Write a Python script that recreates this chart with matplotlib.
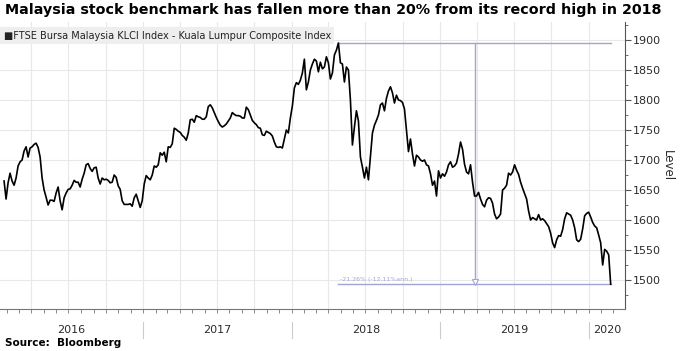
import numpy as np
import pandas as pd
import matplotlib
matplotlib.use("Agg")
import matplotlib.pyplot as plt
import matplotlib.dates as mdates
import matplotlib.transforms as mtransforms


# FBM KLCI level at regular steps
start_date = "2016-01-25"
end_date = "2020-02-24"
klci = [
    1665, 1635, 1662, 1678, 1665, 1658, 1670, 1690, 1697, 1700,
    1715, 1722, 1705, 1720, 1722, 1726, 1728, 1721, 1705, 1670,
    1650, 1638, 1625, 1633, 1633, 1631, 1645, 1655, 1632, 1617,
    1637, 1645, 1651, 1652, 1658, 1666, 1663, 1663, 1655, 1668,
    1678, 1692, 1694, 1686, 1681, 1687, 1688, 1670, 1660, 1670,
    1667, 1668, 1666, 1662, 1663, 1675, 1671, 1657, 1651, 1632,
    1626, 1626, 1626, 1627, 1623, 1637, 1643, 1632, 1621, 1632,
    1660, 1674, 1670, 1667, 1675, 1690, 1688, 1692, 1712, 1708,
    1713, 1697, 1722, 1721, 1727, 1753, 1751, 1748, 1746, 1741,
    1738, 1733, 1745, 1767, 1768, 1763, 1774, 1772, 1771, 1768,
    1768, 1772, 1789, 1792, 1787, 1779, 1771, 1764, 1758, 1755,
    1757, 1760, 1765, 1770, 1779, 1776, 1774, 1774, 1773, 1770,
    1770, 1788, 1784, 1775, 1766, 1762, 1759, 1754, 1753, 1742,
    1741, 1748, 1746, 1744, 1740, 1730, 1722, 1721, 1722, 1720,
    1735, 1750, 1745, 1770, 1790, 1820, 1829, 1826, 1833, 1845,
    1868, 1817, 1830, 1850, 1860, 1868, 1865, 1847, 1863, 1852,
    1855, 1872, 1862, 1835, 1845, 1875, 1883, 1895, 1862, 1860,
    1830, 1855, 1850, 1800, 1725, 1755, 1782, 1765, 1705, 1688,
    1670, 1688, 1667, 1705, 1745, 1758, 1766, 1775, 1792, 1795,
    1782, 1803, 1815, 1822, 1812, 1795, 1808, 1800, 1799, 1796,
    1785, 1750, 1714, 1735, 1710, 1690, 1708, 1705, 1700, 1698,
    1700, 1692, 1690, 1677, 1658, 1665, 1640, 1682, 1670, 1677,
    1673, 1680, 1692, 1697, 1688, 1690, 1695, 1710, 1730, 1718,
    1693, 1680, 1677, 1692, 1663, 1640, 1640, 1646, 1635, 1626,
    1622, 1633, 1637, 1636, 1628, 1610, 1602, 1605, 1610, 1650,
    1653, 1658, 1678, 1675, 1680, 1692, 1683, 1676, 1663, 1653,
    1644, 1635, 1615, 1600, 1604, 1602, 1600, 1609, 1600, 1602,
    1599, 1594, 1589, 1578, 1562, 1554, 1567, 1574, 1573, 1584,
    1602, 1612, 1610, 1608, 1600, 1587, 1567, 1564, 1568, 1585,
    1607, 1611, 1613, 1605, 1596, 1590, 1587, 1575, 1562, 1525,
    1551, 1548, 1542, 1493,
]
years = [2016, 2017, 2018, 2019, 2020]
drawdown_label = "-21.26% (-12.11%ann.)"

title = "Malaysia stock benchmark has fallen more than 20% from its record high in 2018"
legend_label = "FTSE Bursa Malaysia KLCI Index - Kuala Lumpur Composite Index"

dates = pd.date_range(start_date, end_date, periods=len(klci))
series = pd.Series(klci, index=dates)

x_min = pd.Timestamp("2016-01-15")
x_max = pd.Timestamp("2020-03-30")

anno_color = "#a3a3d6"
grid_color = "#e8e8e8"
text_color = "#2b2b2b"

fig = plt.figure(figsize=(6.8, 3.51), dpi=100)
ax = fig.add_axes([0.0, 0.1197, 0.919, 0.8176])

ax.plot(series.index, series.values, color="black", linewidth=1.2, zorder=3)

# drawdown from record high to latest value
peak_date = series.idxmax()
peak_val = series.max()
last_date = series.index[-1]
last_val = series.iloc[-1]
mid_date = peak_date + (last_date - peak_date) / 2
ax.plot([peak_date, last_date], [peak_val, peak_val], color=anno_color, lw=1.0, zorder=2)
ax.plot([peak_date, last_date], [last_val, last_val], color=anno_color, lw=1.0, zorder=2)
ax.plot([mid_date, mid_date], [peak_val, last_val], color=anno_color, lw=1.0, zorder=2)
ax.plot([mid_date], [last_val + 4], marker="v", markersize=5, markerfacecolor="white",
        markeredgecolor=anno_color, markeredgewidth=0.8, zorder=4)
ax.text(peak_date + pd.Timedelta(days=3), last_val + 3, drawdown_label, fontsize=4.5,
        color=anno_color, ha="left", va="bottom")

# axes limits and scales
ax.set_xlim(x_min, x_max)
ax.set_ylim(1451.7, 1930)

ax.yaxis.tick_right()
ax.yaxis.set_label_position("right")
ax.set_yticks(np.arange(1500, 1901, 50))
ax.set_yticks(np.arange(1475, 1926, 25), minor=True)
ax.set_ylabel("Level", rotation=270, labelpad=9, fontsize=8.5, color=text_color)

ax.xaxis.set_major_locator(mdates.MonthLocator(bymonth=[1, 4, 7, 10]))
ax.xaxis.set_minor_locator(mdates.MonthLocator())
ax.xaxis.set_major_formatter(plt.NullFormatter())

ax.tick_params(axis="y", which="major", length=4, width=0.8, color="#555555",
               labelsize=8, labelcolor=text_color, pad=2)
ax.tick_params(axis="y", which="minor", length=2, width=0.6, color="#555555")
ax.tick_params(axis="x", which="both", length=3, width=0.6, color="#777777")

ax.grid(True, which="major", color=grid_color, linewidth=0.8)
ax.set_axisbelow(True)

for side in ["top", "left"]:
    ax.spines[side].set_visible(False)
ax.spines["right"].set_color("#555555")
ax.spines["right"].set_linewidth(0.8)
ax.spines["bottom"].set_color("#777777")
ax.spines["bottom"].set_linewidth(0.8)

# year labels centred on the visible part of each year, with separators
trans = mtransforms.blended_transform_factory(ax.transData, ax.transAxes)
for yr in years:
    y0 = max(pd.Timestamp(f"{yr}-01-01"), x_min)
    y1 = min(pd.Timestamp(f"{yr + 1}-01-01"), x_max)
    ax.text(y0 + (y1 - y0) / 2, -0.073, str(yr), transform=trans, ha="center", va="center",
            fontsize=8, color=text_color)
    if yr > years[0]:
        ax.plot([pd.Timestamp(f"{yr}-01-01")] * 2, [-0.045, -0.101], transform=trans,
                color="#cccccc", lw=0.8, clip_on=False)

# legend box
ax.text(0.006, 0.97, "\u25a0" + legend_label, transform=ax.transAxes, fontsize=7,
        color="#222222", ha="left", va="top",
        bbox=dict(boxstyle="square,pad=0.35", facecolor="#eeeeee", edgecolor="none"))

fig.text(0.007, 0.972, title, fontsize=10.3, fontweight="bold", ha="left", va="center")
fig.text(0.007, 0.023, "Source:  Bloomberg", fontsize=7.5, fontweight="bold", ha="left", va="center")

fig.savefig("out.png", dpi=100)
